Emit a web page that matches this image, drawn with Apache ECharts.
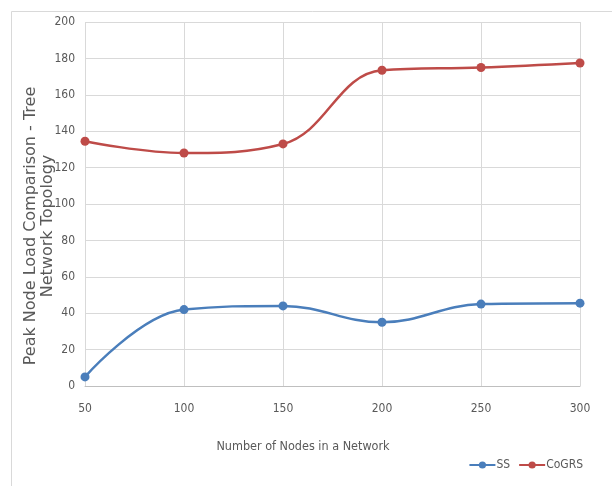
<!DOCTYPE html>
<html>
<head>
<meta charset="utf-8">
<script src="https://cdn.jsdelivr.net/npm/echarts@6/dist/echarts.min.js"></script>
<style>
  html, body { margin: 0; padding: 0; background: #fff; }
  #chart { width: 612px; height: 486px; }
</style>
</head>
<body>
<div id="chart"></div>
<script>
// Number of nodes in the network (x axis categories)
const nodeCounts = ['50', '100', '150', '200', '250', '300'];
// Peak node load per scheme
const ssLoad = [5, 42, 44, 35, 45, 45.5];
const cogrsLoad = [134.5, 128, 133, 173.5, 175, 177.5];
// Y axis range and step
const yMin = 0, yMax = 200, yStep = 20;

const labelFont = '"DejaVu Sans Condensed", "Liberation Sans Narrow", "Liberation Sans", sans-serif';
const gridColor = '#d9d9d9';

const chart = echarts.init(document.getElementById('chart'));
chart.setOption({
  animation: false,
  backgroundColor: '#ffffff',
  grid: { left: 85, top: 22, width: 495, height: 364, containLabel: false },
  xAxis: {
    type: 'category',
    data: nodeCounts,
    boundaryGap: false,
    axisLine: { show: true, lineStyle: { color: '#bfbfbf', width: 1 } },
    axisTick: { show: false },
    axisLabel: { color: '#595959', fontSize: 12, fontFamily: labelFont, margin: 17 },
    splitLine: { show: true, lineStyle: { color: gridColor, width: 1 } }
  },
  yAxis: {
    type: 'value',
    min: yMin, max: yMax, interval: yStep,
    axisLine: { show: false },
    axisTick: { show: false },
    axisLabel: { color: '#595959', fontSize: 12, fontFamily: labelFont, margin: 10 },
    splitLine: { show: true, lineStyle: { color: gridColor, width: 1 } }
  },
  legend: {
    right: 24, top: 454,
    itemWidth: 26, itemHeight: 9, itemGap: 8,
    textStyle: { color: '#595959', fontSize: 12, fontFamily: labelFont, padding: [0, 0, 0, -4] },
    data: ['SS', 'CoGRS']
  },
  series: [
    {
      name: 'SS', type: 'line', data: ssLoad, smooth: 0.4,
      symbol: 'circle', symbolSize: 9,
      lineStyle: { color: '#4a7ebb', width: 2.5 },
      itemStyle: { color: '#4a7ebb' }
    },
    {
      name: 'CoGRS', type: 'line', data: cogrsLoad, smooth: 0.4,
      symbol: 'circle', symbolSize: 9,
      lineStyle: { color: '#be4b48', width: 2.5 },
      itemStyle: { color: '#be4b48' }
    }
  ],
  graphic: [
    {
      type: 'rect', silent: true, z: -1,
      shape: { x: 11.5, y: 11.5, width: 700, height: 600 },
      style: { fill: 'none', stroke: '#d9d9d9', lineWidth: 1 }
    },
    {
      type: 'text', x: 39, y: 226, rotation: Math.PI / 2,
      style: {
        text: 'Peak Node Load Comparison - Tree\nNetwork Topology',
        fill: '#595959', fontSize: 16, lineHeight: 17,
        fontFamily: '"DejaVu Sans", "Open Sans", sans-serif',
        align: 'center', verticalAlign: 'middle'
      }
    },
    {
      type: 'text', x: 303, y: 447,
      style: {
        text: 'Number of Nodes in a Network',
        fill: '#595959', fontSize: 12.5, fontFamily: labelFont,
        align: 'center', verticalAlign: 'middle'
      }
    }
  ]
});
</script>
</body>
</html>
